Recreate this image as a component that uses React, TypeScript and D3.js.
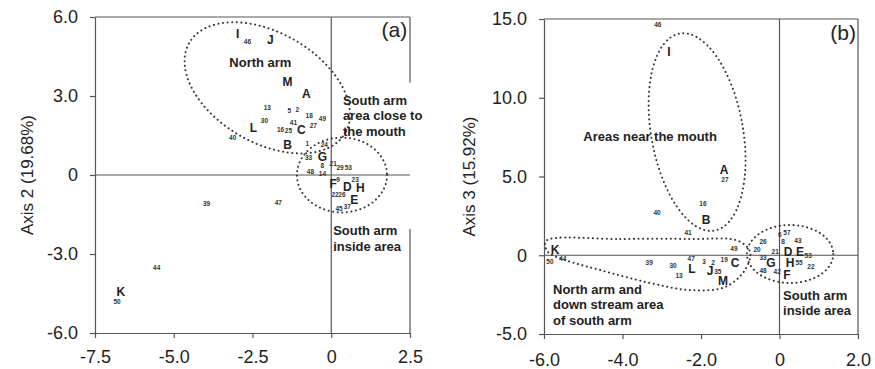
import { useEffect, useRef } from "react";
import * as d3 from "d3";

// panel (a): Axis 1 vs Axis 2
const aXTicks = [-7.5, -5.0, -2.5, 0, 2.5];
const aYTicks = [-6.0, -3.0, 0, 3.0, 6.0];
const aSites: [string, number, number][] = [
  ["I", -2.97, 5.36], ["J", -1.93, 5.13], ["M", -1.39, 3.54], ["A", -0.79, 3.08],
  ["L", -2.47, 1.79], ["C", -0.95, 1.71], ["B", -1.39, 1.14], ["G", -0.28, 0.68],
  ["F", 0.06, -0.34], ["D", 0.51, -0.45], ["H", 0.92, -0.5], ["E", 0.73, -0.93],
  ["K", -6.68, -4.45],
];
const aStations: [string, number, number][] = [
  ["46", -2.66, 5.06], ["13", -2.03, 2.55], ["5", -1.33, 2.43], ["2", -1.08, 2.47],
  ["18", -0.7, 2.24], ["49", -0.28, 2.13], ["30", -2.12, 2.05], ["41", -1.2, 1.98],
  ["27", -0.57, 1.86], ["16", -1.61, 1.71], ["25", -1.36, 1.67], ["40", -3.13, 1.41],
  ["1", -0.76, 1.18], ["24", -0.22, 1.14], ["33", -0.72, 0.66], ["8", -0.28, 0.34],
  ["21", 0.06, 0.42], ["29", 0.28, 0.27], ["53", 0.54, 0.27], ["48", -0.66, 0.11],
  ["14", -0.28, 0.04], ["9", 0.22, -0.19], ["23", 0.76, -0.19], ["22", 0.12, -0.76],
  ["26", 0.34, -0.76], ["45", 0.25, -1.29], ["37", 0.51, -1.22], ["47", -1.68, -1.06],
  ["39", -3.96, -1.1], ["44", -5.54, -3.54], ["50", -6.8, -4.83],
];

// panel (b): Axis 1 vs Axis 3
const bXTicks = [-6.0, -4.0, -2.0, 0, 2.0];
const bYTicks = [-5.0, 0, 5.0, 10.0, 15.0];
const bSites: [string, number, number][] = [
  ["I", -2.82, 12.9], ["A", -1.41, 5.41], ["B", -1.87, 2.24], ["K", -5.72, 0.33],
  ["L", -2.23, -0.87], ["J", -1.77, -1.0], ["C", -1.13, -0.49], ["M", -1.44, -1.64],
  ["D", 0.22, 0.21], ["E", 0.52, 0.21], ["G", -0.22, -0.49], ["H", 0.27, -0.45],
  ["F", 0.19, -1.25],
];
const bStations: [string, number, number][] = [
  ["46", -3.1, 14.62], ["27", -1.39, 4.78], ["16", -1.95, 3.25], ["40", -3.12, 2.68],
  ["41", -2.33, 1.41], ["50", -5.85, -0.43], ["44", -5.52, -0.24], ["39", -3.32, -0.49],
  ["30", -2.71, -0.68], ["13", -2.56, -1.32], ["47", -2.25, -0.24], ["3", -1.92, -0.43],
  ["2", -1.69, -0.49], ["35", -1.57, -1.06], ["19", -1.41, -0.3], ["49", -1.16, 0.4],
  ["26", -0.42, 0.84], ["6", 0.01, 1.29], ["57", 0.19, 1.41], ["8", 0.09, 0.84],
  ["43", 0.47, 0.9], ["21", -0.11, 0.21], ["20", -0.57, 0.33], ["33", -0.42, -0.17],
  ["55", 0.5, -0.45], ["53", 0.73, -0.05], ["22", 0.8, -0.75], ["48", -0.42, -1.0],
  ["42", -0.06, -1.06],
];

// dotted group outlines: cx, cy, rx, ry (data units), rotation (deg)
const aGroups: [number, number, number, number, number][] = [
  [-2.03, 3.31, 2.86, 2.09, 30],
  [0.34, 0.0, 1.43, 1.42, 0],
];
const bGroups: [number, number, number, number, number][] = [
  [-2.1, 7.82, 1.17, 6.35, -10],
  [0.27, 0.08, 1.1, 1.84, 0],
];
const bNorthOutline: [number, number][] = [
  [-5.95, 0.9], [-4.06, 1.03], [-2.28, 1.03], [-1.06, 0.92], [-0.75, 0.21],
  [-0.88, -0.94], [-1.39, -2.02], [-2.28, -2.21], [-3.3, -1.76], [-4.57, -0.94],
  [-5.46, -0.3], [-5.9, 0.21],
];

// annotations: text lines, x, y of first baseline
const aNotes: [string[], number, number, string][] = [
  [["North arm"], -2.25, 4.1, "middle"],
  [["South arm", "area close to", "the mouth"], 0.37, 2.66, "start"],
  [["South arm", "inside area"], 0.06, -2.28, "start"],
];
const bNotes: [string[], number, number, string][] = [
  [["Areas near the mouth"], -5.0, 7.26, "start"],
  [["North arm and", "down stream area", "of south arm"], -5.77, -2.46, "start"],
  [["South arm", "inside area"], 0.09, -2.84, "start"],
];

const FONT = "'Liberation Sans', Arial, sans-serif";
const INK = "#222";

const App = () => {
  const svgRef = useRef<SVGSVGElement>(null);

  useEffect(() => {
    const svg = d3.select(svgRef.current);
    svg.selectAll("*").remove();

    const fmt = (v: number) => (v === 0 ? "0" : v.toFixed(1));

    function drawPanel(opts: any) {
      const { x, y, xTicks, yTicks, sites, stations, groups, notes, tag, yLabel, labelX, gapTop, gapBottom, xLabelY } = opts;
      const g = svg.append("g");
      const [x0, x1] = x.range();
      const [y0, y1] = y.range();

      // frame
      g.append("line").attr("x1", x0).attr("x2", x1).attr("y1", y1).attr("y2", y1)
        .attr("stroke", "#555").attr("stroke-width", 1.2);
      if (gapTop != null) {
        g.append("line").attr("x1", x1).attr("x2", x1).attr("y1", y1).attr("y2", y(gapTop))
          .attr("stroke", "#555").attr("stroke-width", 1.2);
        g.append("line").attr("x1", x1).attr("x2", x1).attr("y1", y(gapBottom)).attr("y2", y0)
          .attr("stroke", "#555").attr("stroke-width", 1.2);
      } else {
        g.append("line").attr("x1", x1).attr("x2", x1).attr("y1", y1).attr("y2", y0)
          .attr("stroke", "#555").attr("stroke-width", 1.2);
      }

      // zero lines
      g.append("line").attr("x1", x0).attr("x2", x1).attr("y1", y(0)).attr("y2", y(0))
        .attr("stroke", "#555").attr("stroke-width", 1.2);
      g.append("line").attr("x1", x(0)).attr("x2", x(0)).attr("y1", y1).attr("y2", y0)
        .attr("stroke", "#555").attr("stroke-width", 1.2);

      // axes
      const ax = g.append("g").attr("transform", `translate(0,${y0})`)
        .call(d3.axisBottom(x).tickValues(xTicks).tickFormat(fmt).tickSize(5).tickSizeOuter(0));
      ax.selectAll("text").attr("dy", null).attr("y", xLabelY);
      const ay = g.append("g").attr("transform", `translate(${x0},0)`)
        .call(d3.axisLeft(y).tickValues(yTicks).tickFormat(fmt).tickSize(5).tickSizeOuter(0).tickPadding(12));
      [ax, ay].forEach((a) => {
        a.selectAll("path, line").attr("stroke", "#555").attr("stroke-width", 1.2);
        a.selectAll("text").attr("font-family", FONT).attr("font-size", 18).attr("fill", INK);
      });

      g.append("text")
        .attr("transform", `translate(${labelX},${(y0 + y1) / 2}) rotate(-90)`)
        .attr("text-anchor", "middle")
        .attr("font-family", FONT).attr("font-size", 17).attr("fill", INK)
        .text(yLabel);

      // group outlines
      groups.forEach(([cx, cy, rx, ry, rot]: number[]) => {
        g.append("ellipse")
          .attr("cx", x(cx)).attr("cy", y(cy))
          .attr("rx", Math.abs(x(cx + rx) - x(cx)))
          .attr("ry", Math.abs(y(cy + ry) - y(cy)))
          .attr("transform", `rotate(${rot},${x(cx)},${y(cy)})`)
          .attr("fill", "none").attr("stroke", "#333").attr("stroke-width", 2)
          .attr("stroke-linecap", "round").attr("stroke-dasharray", "0.1 4.5");
      });
      if (opts.outline) {
        const line = d3.line<[number, number]>()
          .x((d) => x(d[0])).y((d) => y(d[1]))
          .curve(d3.curveCatmullRomClosed.alpha(0.5));
        g.append("path").attr("d", line(opts.outline))
          .attr("fill", "none").attr("stroke", "#333").attr("stroke-width", 2)
          .attr("stroke-linecap", "round").attr("stroke-dasharray", "0.1 4.5");
      }

      // labels
      g.selectAll(".site").data(sites).enter().append("text")
        .attr("x", (d: any) => x(d[1])).attr("y", (d: any) => y(d[2]))
        .attr("dy", "0.35em").attr("text-anchor", "middle")
        .attr("font-family", FONT).attr("font-weight", "bold").attr("font-size", 12)
        .attr("fill", INK).text((d: any) => d[0]);
      g.selectAll(".station").data(stations).enter().append("text")
        .attr("x", (d: any) => x(d[1])).attr("y", (d: any) => y(d[2]))
        .attr("dy", "0.35em").attr("text-anchor", "middle")
        .attr("font-family", FONT).attr("font-weight", "bold").attr("font-size", 6.5)
        .attr("fill", "#333").text((d: any) => d[0]);

      // notes
      notes.forEach(([lines, nx, ny, anchor]: any) => {
        const t = g.append("text")
          .attr("x", x(nx)).attr("y", y(ny)).attr("text-anchor", anchor)
          .attr("font-family", FONT).attr("font-weight", "bold").attr("font-size", 13)
          .attr("fill", INK);
        lines.forEach((s: string, i: number) => {
          t.append("tspan").attr("x", x(nx)).attr("dy", i === 0 ? 0 : 15.5).text(s);
        });
      });

      g.append("text")
        .attr("x", x(tag.x)).attr("y", y(tag.y)).attr("text-anchor", "end")
        .attr("font-family", FONT).attr("font-size", 21).attr("fill", INK)
        .text(tag.text);
    }

    drawPanel({
      x: d3.scaleLinear().domain([-7.5, 2.5]).range([95, 410]),
      y: d3.scaleLinear().domain([-6, 6]).range([333, 17]),
      xTicks: aXTicks, yTicks: aYTicks,
      sites: aSites, stations: aStations, groups: aGroups, notes: aNotes,
      tag: { text: "(a)", x: 2.41, y: 5.25 },
      yLabel: "Axis 2 (19.68%)", labelX: 33,
      gapTop: 3.5, gapBottom: -2.05, xLabelY: 30,
    });

    drawPanel({
      x: d3.scaleLinear().domain([-6, 2]).range([544, 858]),
      y: d3.scaleLinear().domain([-5, 15]).range([334, 19]),
      xTicks: bXTicks, yTicks: bYTicks,
      sites: bSites, stations: bStations, groups: bGroups, notes: bNotes,
      outline: bNorthOutline,
      tag: { text: "(b)", x: 1.95, y: 13.67 },
      yLabel: "Axis 3 (15.92%)", labelX: 475,
      xLabelY: 32,
    });
  }, []);

  return (
    <svg
      ref={svgRef}
      width={875}
      height={369}
      style={{ position: "absolute", left: 0, top: 0, background: "#fff" }}
    />
  );
};

export default App;
